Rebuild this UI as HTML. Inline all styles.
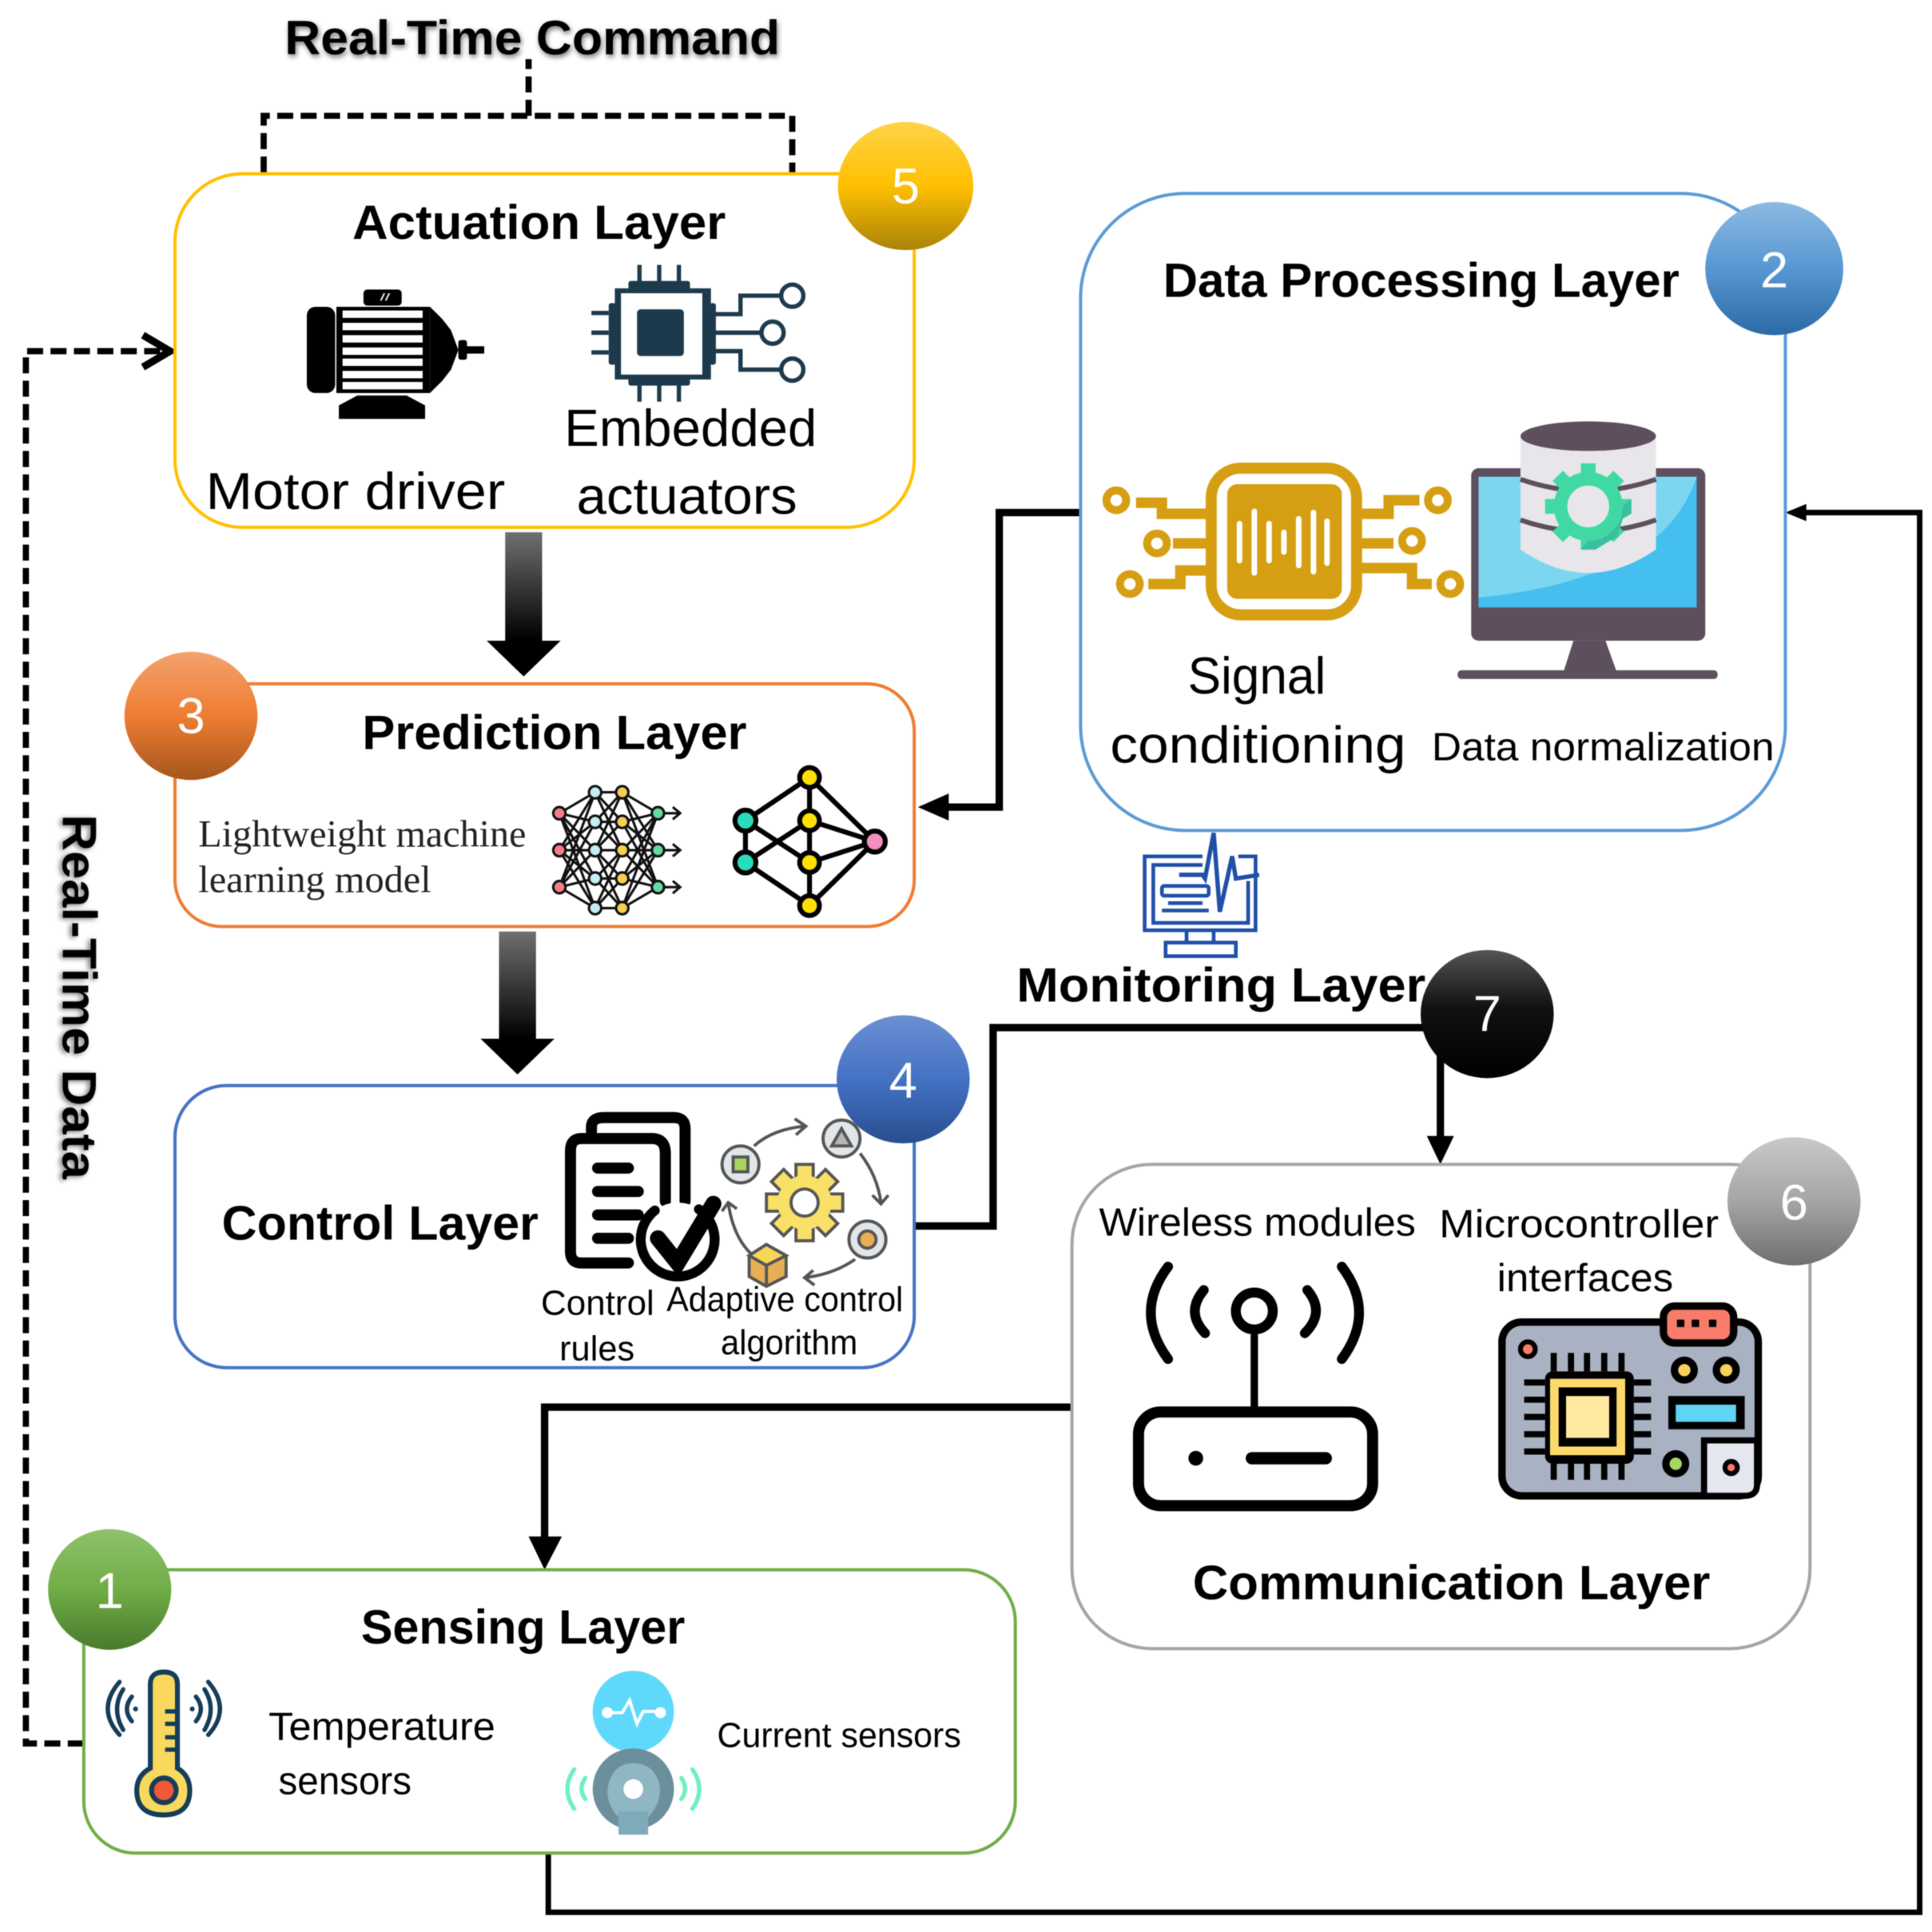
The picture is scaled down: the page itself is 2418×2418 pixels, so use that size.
<!DOCTYPE html>
<html><head><meta charset="utf-8"><style>
html,body{margin:0;padding:0;background:#fff}
svg{display:block;filter:blur(.6px)}
text{font-family:"Liberation Sans",sans-serif;fill:#000}
.b{font-weight:bold;font-size:39px}
.r{font-size:42px}
.s{font-size:32px}
.t{font-size:28px}
.f{font-family:"Liberation Serif",serif;font-size:31px;fill:#222}
.n{font-size:41px;fill:#fff;text-anchor:middle}
.sh{filter:drop-shadow(1px 2px 2px rgba(0,0,0,.55))}
</style></head><body>
<svg xmlns="http://www.w3.org/2000/svg" width="2418" height="2418" viewBox="0 0 1568 1568">
<defs>
<linearGradient id="g5" x1="0" y1="0" x2="0" y2="1"><stop offset="0" stop-color="#FFD349"/><stop offset=".5" stop-color="#FFC000"/><stop offset="1" stop-color="#A98209"/></linearGradient>
<linearGradient id="g2" x1="0" y1="0" x2="0" y2="1"><stop offset="0" stop-color="#8DB9E2"/><stop offset=".5" stop-color="#5797D2"/><stop offset="1" stop-color="#2B6AA6"/></linearGradient>
<linearGradient id="g3" x1="0" y1="0" x2="0" y2="1"><stop offset="0" stop-color="#F4A26E"/><stop offset=".5" stop-color="#ED7D31"/><stop offset="1" stop-color="#A5561F"/></linearGradient>
<linearGradient id="g4" x1="0" y1="0" x2="0" y2="1"><stop offset="0" stop-color="#6C8FD2"/><stop offset=".5" stop-color="#4472C4"/><stop offset="1" stop-color="#284E8F"/></linearGradient>
<linearGradient id="g6" x1="0" y1="0" x2="0" y2="1"><stop offset="0" stop-color="#C9C9C9"/><stop offset=".5" stop-color="#A5A5A5"/><stop offset="1" stop-color="#6F6F6F"/></linearGradient>
<linearGradient id="g1" x1="0" y1="0" x2="0" y2="1"><stop offset="0" stop-color="#8FC26C"/><stop offset=".5" stop-color="#70AD47"/><stop offset="1" stop-color="#4A7A2C"/></linearGradient>
<linearGradient id="g7" x1="0" y1="0" x2="0" y2="1"><stop offset="0" stop-color="#555"/><stop offset=".45" stop-color="#111"/><stop offset="1" stop-color="#000"/></linearGradient>
<linearGradient id="ga" x1="0" y1="0" x2="0" y2="1"><stop offset="0" stop-color="#707070"/><stop offset=".75" stop-color="#000"/></linearGradient>
</defs>

<!-- connectors -->
<g fill="none" stroke="#000" stroke-width="5" stroke-dasharray="13 6">
<path d="M214 140V94H643V140"/><path d="M429 94V48"/>
<path d="M68 1415H21V285H132"/>
</g>
<path d="M116 272L138 285L116 298" fill="none" stroke="#000" stroke-width="6"/>
<g fill="none" stroke="#000" stroke-width="6">
<path d="M877 416H811V655H760"/>
<path d="M742 995H806V834H1169V925"/>
<path d="M870 1142H442V1250"/>
</g>
<path d="M445 1504V1552H1558V416H1462" fill="none" stroke="#000" stroke-width="4.5"/>
<path d="M745 655L770 644V666Z"/><path d="M1169 945L1158 922H1180Z"/><path d="M442 1274L429 1247H456Z"/><path d="M1449 416L1466 409V423Z"/>
<path d="M410 432H440V520H455L425 549L395 520H410Z" fill="url(#ga)"/>
<path d="M405 756H435V843H450L420 872L390 843H405Z" fill="url(#ga)"/>

<!-- boxes -->
<g fill="#fff" stroke-width="2.6">
<rect x="142" y="141" width="600" height="287" rx="55" stroke="#FFC000"/>
<rect x="877" y="157" width="572" height="517" rx="85" stroke="#5B9BD5"/>
<rect x="142" y="555" width="600" height="197" rx="38" stroke="#ED7D31"/>
<rect x="142" y="881" width="600" height="229" rx="42" stroke="#4472C4"/>
<rect x="870" y="945" width="599" height="393" rx="65" stroke="#A5A5A5"/>
<rect x="68" y="1274" width="756" height="230" rx="42" stroke="#70AD47"/>
</g>

<!-- labels -->
<text class="b sh" x="231" y="44" textLength="402" lengthAdjust="spacingAndGlyphs">Real-Time Command</text>
<text class="b sh" transform="rotate(90 51 661)" x="51" y="661" textLength="296" lengthAdjust="spacingAndGlyphs">Real-Time Data</text>
<text class="b" x="286" y="194" textLength="303" lengthAdjust="spacingAndGlyphs">Actuation Layer</text>
<text class="r" x="167" y="413" textLength="243" lengthAdjust="spacingAndGlyphs">Motor driver</text>
<text class="r" x="458" y="362" textLength="205" lengthAdjust="spacingAndGlyphs">Embedded</text>
<text class="r" x="468" y="417" textLength="179" lengthAdjust="spacingAndGlyphs">actuators</text>
<text class="b" x="944" y="241" textLength="419" lengthAdjust="spacingAndGlyphs">Data Processing Layer</text>
<text class="r" x="964" y="563" textLength="112" lengthAdjust="spacingAndGlyphs">Signal</text>
<text class="r" x="901" y="619" textLength="240" lengthAdjust="spacingAndGlyphs">conditioning</text>
<text class="s" x="1162" y="617" textLength="278" lengthAdjust="spacingAndGlyphs">Data normalization</text>
<text class="b" x="294" y="608" textLength="312" lengthAdjust="spacingAndGlyphs">Prediction Layer</text>
<text class="f" x="161" y="687" textLength="266" lengthAdjust="spacingAndGlyphs">Lightweight machine</text>
<text class="f" x="161" y="724" textLength="189" lengthAdjust="spacingAndGlyphs">learning model</text>
<text class="b" x="825" y="813" textLength="332" lengthAdjust="spacingAndGlyphs">Monitoring Layer</text>
<text class="b" x="180" y="1006" textLength="257" lengthAdjust="spacingAndGlyphs">Control Layer</text>
<text class="t" x="439" y="1067" textLength="92" lengthAdjust="spacingAndGlyphs">Control</text>
<text class="t" x="454" y="1104" textLength="61" lengthAdjust="spacingAndGlyphs">rules</text>
<text class="t" x="541" y="1064" textLength="192" lengthAdjust="spacingAndGlyphs">Adaptive control</text>
<text class="t" x="585" y="1099" textLength="111" lengthAdjust="spacingAndGlyphs">algorithm</text>
<text class="s" x="892" y="1003" textLength="257" lengthAdjust="spacingAndGlyphs">Wireless modules</text>
<text class="s" x="1168" y="1004" textLength="227" lengthAdjust="spacingAndGlyphs">Microcontroller</text>
<text class="s" x="1215" y="1048" textLength="143" lengthAdjust="spacingAndGlyphs">interfaces</text>
<text class="b" x="968" y="1298" textLength="420" lengthAdjust="spacingAndGlyphs">Communication Layer</text>
<text class="b" x="293" y="1334" textLength="263" lengthAdjust="spacingAndGlyphs">Sensing Layer</text>
<text class="s" x="218" y="1412" textLength="184" lengthAdjust="spacingAndGlyphs">Temperature</text>
<text class="s" x="226" y="1456" textLength="108" lengthAdjust="spacingAndGlyphs">sensors</text>
<text class="t" x="582" y="1418" textLength="198" lengthAdjust="spacingAndGlyphs">Current sensors</text>

<!-- motor -->
<g>
<rect x="295" y="235" width="31" height="13" rx="3"/>
<path d="M312 238l-3 6M316 238l-3 6" stroke="#fff" stroke-width="1.2"/>
<rect x="249" y="249" width="23" height="70" rx="7"/>
<rect x="273" y="249" width="76" height="70"/>
<path d="M349 249L359 259L366 268L372 284L366 300L359 309L349 319Z"/>
<rect x="372" y="281" width="21" height="6"/><rect x="372" y="276" width="7" height="16" rx="2"/>
<path d="M275 340V329L290 321H330L345 329V340Z"/>
<g fill="#fff"><rect x="278" y="252" width="65" height="6"/><rect x="278" y="262" width="65" height="6"/><rect x="278" y="272" width="65" height="6"/><rect x="278" y="282" width="65" height="6"/><rect x="278" y="291" width="65" height="6"/><rect x="278" y="301" width="65" height="6"/><rect x="278" y="310" width="65" height="6"/></g>
</g>

<!-- embedded chip -->
<g fill="none" stroke="#1D3A4D" stroke-width="3.5">
<rect x="499" y="234" width="78" height="74" fill="#1D3A4D" stroke="none"/>
<rect x="510" y="228" width="50" height="8" rx="2" fill="#1D3A4D" stroke="none"/>
<rect x="510" y="306" width="50" height="7" rx="2" fill="#1D3A4D" stroke="none"/>
<rect x="494" y="246" width="6" height="50" rx="2" fill="#1D3A4D" stroke="none"/>
<rect x="576" y="246" width="5" height="50" rx="2" fill="#1D3A4D" stroke="none"/>
<rect x="504" y="238" width="66" height="66" fill="#fff" stroke="none"/>
<rect x="517" y="251" width="38" height="38" rx="3" fill="#1D3A4D" stroke="none"/>
<path d="M519 215V232M535 215V232M551 215V232M519 308V326M535 308V326M551 308V326M480 254H494M480 270H494M480 286H494"/>
<path d="M577 255H601V240H633M577 270H617M577 285H601V300H633"/>
<circle cx="643" cy="240" r="9"/><circle cx="627" cy="270" r="9"/><circle cx="643" cy="300" r="9"/>
</g>

<!-- signal icon -->
<g fill="none" stroke="#D69E12">
<rect x="983" y="380" width="118" height="119" rx="24" stroke-width="9"/>
<rect x="996" y="393" width="93" height="93" rx="8" fill="#D69E12" stroke="none"/>
<g stroke="#fff" stroke-width="4.5" stroke-linecap="round"><path d="M1006 425V455M1018 415V465M1030 425V455M1042 432V448M1054 421V459M1066 416V464M1077 423V457"/></g>
<g stroke-width="8.5"><path d="M979 417H943V408H922M979 441H952M979 463H958V474H932M1105 417H1127V406H1152M1105 441H1131M1105 461H1146V474H1162"/></g>
<g stroke-width="6.5"><circle cx="906" cy="406" r="8"/><circle cx="939" cy="441" r="8"/><circle cx="917" cy="474" r="8"/><circle cx="1167" cy="406" r="8"/><circle cx="1146" cy="439" r="8"/><circle cx="1177" cy="474" r="8"/></g>
</g>

<!-- monitor/db -->
<rect x="1194" y="380" width="190" height="140" rx="6" fill="#5D4F5E"/>
<rect x="1200" y="387" width="177" height="106" fill="#45BFF0"/>
<path d="M1200 387H1377Q1350 470 1200 485Z" fill="#7DD6EF"/>
<path d="M1277 520H1303L1312 545H1269Z" fill="#5D4F5E"/>
<rect x="1183" y="544" width="211" height="7" rx="3" fill="#5D4F5E"/>
<path d="M1234 354V446Q1289 484 1344 446V354Z" fill="#E8E6EA"/>
<path d="M1234 389Q1289 408 1344 389M1234 422Q1289 441 1344 422" fill="none" stroke="#5D4F5E" stroke-width="4"/>
<ellipse cx="1289" cy="354" rx="55" ry="12" fill="#5D4F5E"/>
<g transform="translate(1289 411)">
<g fill="#41D9A3"><rect x="-6" y="-35" width="12" height="70"/><rect x="-35" y="-6" width="70" height="12"/><rect x="-6" y="-35" width="12" height="70" transform="rotate(45)"/><rect x="-6" y="-35" width="12" height="70" transform="rotate(-45)"/></g>
<circle r="28" fill="#41D9A3"/>
<path d="M0 28A28 28 0 0 0 28 0L35 -6V6L28 10L24 24L6 35H-6Z" fill="#3BBFA0"/>
<circle r="17" fill="#E8E6EA"/>
</g>

<!-- NN1 -->
<g fill="none" stroke="#111" stroke-width="2">
<path d="M454 660L483 643M454 660L483 667M454 660L483 690M454 660L483 713M454 690L483 643M454 690L483 667M454 690L483 690M454 690L483 713M454 690L483 737M454 720L483 667M454 720L483 690M454 720L483 713M454 720L483 737M454 660L483 737M454 720L483 643"/>
<path d="M483 643H505M483 667H505M483 690H505M483 713H505M483 737H505M483 643L505 667M483 667L505 643M483 667L505 690M483 690L505 667M483 690L505 713M483 713L505 690M483 713L505 737M483 737L505 713M483 643L505 690M483 737L505 690M483 690L505 643M483 690L505 737"/>
<path d="M505 643L534 660M505 667L534 660M505 690L534 660M505 713L534 660M505 643L534 690M505 667L534 690M505 690L534 690M505 713L534 690M505 737L534 690M505 667L534 720M505 690L534 720M505 713L534 720M505 737L534 720M505 737L534 660M505 643L534 720"/>
<path d="M534 660H551M534 690H551M534 720H551M546 655L552 660L546 665M546 685L552 690L546 695M546 715L552 720L546 725"/>
</g>
<g stroke="#111" stroke-width="2">
<g fill="#F67C8C"><circle cx="454" cy="660" r="5"/><circle cx="454" cy="690" r="5"/><circle cx="454" cy="720" r="5"/></g>
<g fill="#C5EEF3"><circle cx="483" cy="643" r="5"/><circle cx="483" cy="667" r="5"/><circle cx="483" cy="690" r="5"/><circle cx="483" cy="713" r="5"/><circle cx="483" cy="737" r="5"/></g>
<g fill="#F7CF52"><circle cx="505" cy="643" r="5"/><circle cx="505" cy="667" r="5"/><circle cx="505" cy="690" r="5"/><circle cx="505" cy="713" r="5"/><circle cx="505" cy="737" r="5"/></g>
<g fill="#66D9A5"><circle cx="534" cy="660" r="5"/><circle cx="534" cy="690" r="5"/><circle cx="534" cy="720" r="5"/></g>
</g>

<!-- NN2 -->
<path d="M605 666L657 631M605 666V700M605 666L657 700M605 700L657 666M605 700L657 735M657 631V735M657 631L710 683M657 666L710 683M657 700L710 683M657 735L710 683" fill="none" stroke="#000" stroke-width="4"/>
<g stroke="#000" stroke-width="4">
<g fill="#FFE000"><circle cx="657" cy="631" r="8"/><circle cx="657" cy="666" r="8"/><circle cx="657" cy="700" r="8"/><circle cx="657" cy="735" r="8"/></g>
<g fill="#27DDBB"><circle cx="605" cy="666" r="8.5"/><circle cx="605" cy="700" r="8.5"/></g>
<circle cx="710" cy="683" r="8.5" fill="#F48FC0"/>
</g>

<!-- control rules -->
<g fill="none" stroke="#000" stroke-linecap="round">
<path d="M480 918V915Q480 907 490 907H547Q556 907 556 916V975" stroke-width="9"/>
<path d="M510 1025H472Q463 1025 463 1016V934Q463 924 472 924H529Q540 924 540 936V975" stroke-width="9"/>
<path d="M485 948H510M485 967H518M485 986H518M485 1005H510" stroke-width="9"/>
<circle cx="550" cy="1006" r="30" fill="#fff" stroke-width="8" stroke-dasharray="150 40" transform="rotate(-55 550 1006)"/>
<path d="M534 1005L550 1025L579 977" stroke-width="13"/>
</g>

<!-- adaptive algorithm -->
<g transform="translate(653 976)" stroke="#555" stroke-width="2.5" fill="#F9E067">
<g><rect x="-7" y="-31" width="14" height="62"/><rect x="-31" y="-7" width="62" height="14"/><rect x="-7" y="-31" width="14" height="62" transform="rotate(45)"/><rect x="-7" y="-31" width="14" height="62" transform="rotate(-45)"/></g>
<circle r="22" stroke="none"/><circle r="11" fill="#fff"/>
</g>
<g stroke="#555" stroke-width="2.5" fill="#E0E6EA">
<circle cx="601" cy="945" r="15"/><rect x="595" y="939" width="12" height="12" fill="#A8D65C"/>
<circle cx="683" cy="924" r="15"/><path d="M683 916L691 930H675Z" fill="#B5B5B5"/>
<circle cx="704" cy="1006" r="15"/><circle cx="704" cy="1006" r="7" fill="#EBAE52"/>
<path d="M622 1010L638 1019V1036L622 1044L608 1036V1019Z" fill="#E8AE55"/>
<path d="M622 1010L638 1019L622 1027L608 1019Z" fill="#F7D65A"/><path d="M622 1027V1044" fill="none"/>
</g>
<g fill="none" stroke="#555" stroke-width="2.5">
<path d="M612 930Q628 916 654 914M645 908L654 914L646 921"/>
<path d="M698 936Q712 954 715 976M708 970L715 977L721 970"/>
<path d="M694 1022Q677 1034 653 1037M660 1031L653 1037L661 1043"/>
<path d="M610 1018Q595 1004 591 976M586 983L591 976L598 981"/>
</g>

<!-- monitoring icon -->
<g fill="none" stroke="#1F4FA8" stroke-width="3">
<path d="M976 695H929V755H1019V695H1005"/>
<path d="M976 702H936V749H1013V715"/>
<path d="M963 755V766M985 755V766"/><rect x="946" y="765" width="57" height="11"/>
<path d="M957 710H976L978 713L985 676L990 740L1000 695L1003 713L1022 710" stroke-width="3.5"/>
<rect x="943" y="719" width="38" height="8" rx="2"/>
<path d="M948 733H976M943 739H981"/>
</g>

<!-- router -->
<g fill="none" stroke="#000" stroke-linecap="round">
<rect x="924" y="1146" width="190" height="76" rx="18" stroke-width="9"/>
<path d="M1018 1084V1146" stroke-width="6"/>
<circle cx="1018" cy="1064" r="15" stroke-width="8"/>
<path d="M977 1047Q962 1065 978 1082M1061 1047Q1076 1065 1059 1082" stroke-width="8"/>
<path d="M948 1028Q920 1065 948 1103M1089 1028Q1117 1065 1089 1103" stroke-width="8"/>
<path d="M1016 1183.5H1076" stroke-width="10"/>
</g>
<circle cx="970.5" cy="1183.5" r="6"/>

<!-- board -->
<rect x="1219" y="1073" width="208" height="141" rx="16" fill="#A9B2C3" stroke="#000" stroke-width="6"/>
<rect x="1350" y="1060" width="57" height="30" rx="9" fill="#F97C6B" stroke="#000" stroke-width="6"/>
<g><rect x="1361" y="1071" width="6" height="6"/><rect x="1373" y="1071" width="6" height="6"/><rect x="1387" y="1071" width="6" height="6"/></g>
<circle cx="1240" cy="1095" r="6" fill="#F97C6B" stroke="#000" stroke-width="4"/>
<g stroke="#000" stroke-width="5" fill="none">
<path d="M1261 1098V1113M1275 1098V1113M1288 1098V1113M1302 1098V1113M1316 1098V1113M1261 1188V1201M1275 1188V1201M1288 1188V1201M1302 1188V1201M1316 1188V1201"/>
<path d="M1237 1122H1254M1237 1136H1254M1237 1150H1254M1237 1164H1254M1237 1178H1254M1326 1122H1340M1326 1136H1340M1326 1150H1340M1326 1164H1340M1326 1178H1340"/>
</g>
<rect x="1254" y="1113" width="72" height="75" rx="6"/>
<rect x="1258" y="1119" width="61" height="62" fill="#FCD96A"/>
<rect x="1265" y="1126" width="47" height="48"/>
<rect x="1271" y="1133" width="35" height="34" fill="#FFE9A0"/>
<g stroke="#000" stroke-width="6">
<circle cx="1367" cy="1112" r="8" fill="#F8D25C"/><circle cx="1401" cy="1112" r="8" fill="#F8D25C"/>
<circle cx="1360" cy="1188" r="8" fill="#A6D65E"/>
</g>
<rect x="1354" y="1133" width="62" height="27"/><rect x="1360" y="1140" width="49" height="14" fill="#5FD4F4"/>
<path d="M1383 1214V1169H1426V1205Q1426 1214 1416 1214Z" fill="#E4E7EE" stroke="#000" stroke-width="5"/>
<circle cx="1405" cy="1191" r="5" fill="#F97C6B" stroke="#000" stroke-width="4"/>

<!-- thermometer -->
<g stroke="#143D59" stroke-width="4">
<path d="M122 1435V1367Q122 1357 133 1357Q144 1357 144 1367V1435Q154 1441 154 1453Q154 1473 133 1473Q111 1473 111 1453Q111 1441 122 1435Z" fill="#F9D85E"/>
<circle cx="133" cy="1453" r="10" fill="#F0583A"/>
<path d="M134 1389H143M134 1399H143M134 1410H143M134 1420H143" fill="none" stroke-width="3.5"/>
</g>
<g fill="none" stroke="#143D59" stroke-width="3.5" stroke-linecap="round">
<path d="M107 1377Q99 1387 107 1397M100 1371Q90 1387 100 1404M97 1365Q78 1387 97 1408"/>
<path d="M159 1377Q167 1387 159 1397M166 1371Q176 1387 166 1404M169 1365Q188 1387 169 1408"/>
</g>
<circle cx="110" cy="1387" r="2" fill="#143D59"/><circle cx="156" cy="1387" r="2" fill="#143D59"/>

<!-- current sensor -->
<ellipse cx="514" cy="1389" rx="33" ry="33" fill="#5FD9FB"/>
<path d="M494 1390H505L511 1380L517 1399L522 1389H535" fill="none" stroke="#fff" stroke-width="2.5"/>
<circle cx="493" cy="1390" r="4.5" fill="#fff"/><circle cx="536" cy="1390" r="4.5" fill="#fff"/>
<circle cx="514" cy="1452" r="33" fill="#6C8F9C"/>
<path d="M502 1475Q490 1462 494 1447Q499 1431 514 1431Q530 1431 535 1447Q538 1462 526 1475Z" fill="#8FB6C3"/>
<rect x="502" y="1470" width="24" height="19" fill="#7FAAB9"/>
<circle cx="514" cy="1452" r="8" fill="#fff"/>
<g fill="none" stroke="#6FF0C0" stroke-width="3.5" stroke-linecap="round">
<path d="M466 1436Q455 1452 466 1468M475 1443Q469 1452 475 1460M562 1436Q573 1452 562 1468M553 1443Q559 1452 553 1460"/>
</g>

<!-- badges -->
<ellipse cx="735" cy="151" rx="55" ry="52" fill="url(#g5)"/><text class="n" x="735" y="165">5</text>
<ellipse cx="1440" cy="218" rx="56" ry="54" fill="url(#g2)"/><text class="n" x="1440" y="233">2</text>
<ellipse cx="155" cy="581" rx="54" ry="52" fill="url(#g3)"/><text class="n" x="155" y="595">3</text>
<ellipse cx="733" cy="876" rx="54" ry="52" fill="url(#g4)"/><text class="n" x="733" y="891">4</text>
<ellipse cx="1456" cy="975" rx="54" ry="52" fill="url(#g6)"/><text class="n" x="1456" y="990">6</text>
<ellipse cx="89" cy="1290" rx="50" ry="49" fill="url(#g1)"/><text class="n" x="89" y="1305">1</text>
<ellipse cx="1207" cy="823" rx="54" ry="52" fill="url(#g7)"/><text class="n" x="1207" y="837">7</text>
</svg>
</body></html>
